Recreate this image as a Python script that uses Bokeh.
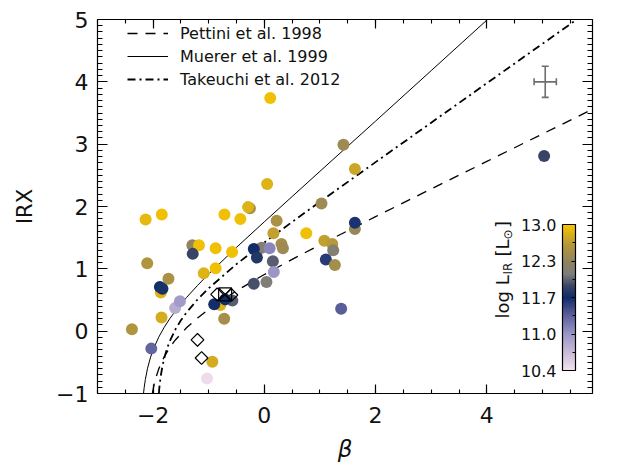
import numpy as np
from bokeh.plotting import figure
from bokeh.models import (ColumnDataSource, LinearColorMapper, ColorBar, FixedTicker,
                          LinearAxis, Legend, LegendItem, Label, LabelSet, Whisker,
                          TeeHead, Range1d, CustomLabelingPolicy)
from bokeh.embed import file_html
from bokeh.resources import INLINE
from bokeh.core.properties import value

# ---------------- data ----------------
beta = [-2.135, -1.844, -2.106, -1.724, -1.861, -1.878, -1.832, -1.849, -1.604, -1.518,
        -2.381, -2.033, -0.791, -0.901, -0.722, -0.575, -0.705, -0.935, -1.031, -0.190,
        0.038, -1.295, -1.175, -1.288, -0.876, -0.717, -0.431, -0.259, -0.293, -0.580,
        -0.876, -1.089, 0.050, 0.221, 0.163, -0.048, -0.190, -0.134, 0.094, 0.153,
        0.170, 0.753, 0.307, 0.334, 1.027, 1.079, 1.221, 1.238, 1.106, 1.268,
        1.422, 1.628, 1.628, 1.628, 1.381, 5.03, 0.106]
irx = [1.79, 1.87, 1.09, 0.84, 0.62, 0.71, 0.68, 0.22, 0.37, 0.48,
       0.03, -0.28, 0.42, 0.43, 0.20, 0.49, 0.51, -0.49, -0.76, 0.76,
       0.79, 1.38, 1.38, 1.24, 1.33, 1.87, 1.80, 1.97, 1.99, 1.27,
       1.01, 0.93, 2.36, 1.77, 1.57, 1.34, 1.32, 1.18, 1.33, 1.12,
       0.95, 1.57, 1.40, 1.33, 2.05, 1.45, 1.40, 1.30, 1.15, 1.06,
       2.99, 2.60, 1.64, 1.74, 0.36, 2.81, 3.74]
log_lir = [12.9, 12.95, 12.6, 12.55, 12.85, 11.72, 11.75, 12.8, 10.85, 11.0,
           12.6, 11.35, 12.85, 11.72, 12.5, 12.0, 11.72, 12.8, 10.45, 11.95,
           12.15, 12.35, 12.95, 11.9, 12.95, 12.95, 12.95, 12.5, 12.85, 12.95,
           12.95, 12.85, 12.85, 12.55, 12.7, 12.2, 11.72, 11.8, 11.15, 12.0,
           11.05, 12.95, 12.5, 12.45, 12.45, 12.7, 12.65, 12.2, 11.6, 12.5,
           12.45, 12.75, 12.4, 11.65, 11.4, 11.9, 12.95]

# open diamonds and boxed cross
dia_beta = [-0.849, -0.592, -1.202, -1.129]
dia_irx = [0.59, 0.58, -0.14, -0.43]
box_beta = [-0.705]
box_irx = [0.59]

# relations
pettini_beta = [-2.014, -2.0, -1.98, -1.95, -1.9, -1.8, -1.7, -1.6, -1.4, -1.2, -1.0,
                -0.5, 0.0, 0.5, 1.0, 2.0, 3.0, 4.0, 5.0, 5.9]
pettini_irx = [-1.0, -0.932, -0.848, -0.745, -0.609, -0.410, -0.261, -0.141, 0.054, 0.213,
               0.351, 0.648, 0.909, 1.152, 1.385, 1.837, 2.282, 2.723, 3.164, 3.560]
meurer_beta = [-2.173, -2.16, -2.14, -2.1, -2.05, -2.0, -1.9, -1.8, -1.7, -1.6, -1.4,
               -1.2, -1.0, -0.5, 0.0, 0.5, 1.0, 2.0, 3.0, 4.0, 4.1]
meurer_irx = [-1.0, -0.900, -0.777, -0.595, -0.429, -0.299, -0.097, 0.063, 0.201, 0.322,
              0.540, 0.735, 0.918, 1.345, 1.755, 2.160, 2.565, 3.370, 4.180, 4.990, 5.070]
takeuchi_beta = [-1.897, -1.89, -1.88, -1.86, -1.83, -1.8, -1.75, -1.7, -1.6, -1.5, -1.4,
                 -1.2, -1.0, -0.5, 0.0, 0.5, 1.0, 2.0, 3.0, 4.0, 5.0, 5.7]
takeuchi_irx = [-1.0, -0.927, -0.840, -0.703, -0.549, -0.432, -0.280, -0.160, 0.026, 0.174,
                0.299, 0.509, 0.689, 1.076, 1.423, 1.753, 2.076, 2.712, 3.345, 3.978,
                4.610, 5.052]
legend_labels = ["Pettini et al. 1998", "Muerer et al. 1999", "Takeuchi et al. 2012"]

# typical error bar
err_beta, err_irx = 5.05, 4.0
err_dbeta, err_dirx = 0.2, 0.25

# axes ticks
x_ticks = [-2, 0, 2, 4]
x_tick_labels = ["\u22122", "0", "2", "4"]
y_ticks = [-1, 0, 1, 2, 3, 4, 5]
y_tick_labels = ["\u22121", "0", "1", "2", "3", "4", "5"]

# colour bar
cb_low, cb_high = 10.4, 13.0
cb_ticks = [10.4, 11.05, 11.7, 12.35, 13.0]
cb_tick_labels = ["10.4", "11.0", "11.7", "12.3", "13.0"]

# ---------------- style ----------------
FONT = "DejaVu Sans"
anchors = [(0.00, "#f3e1ef"), (0.12, "#cbbbd9"), (0.25, "#9a96c6"), (0.38, "#5c5f9c"),
           (0.50, "#0f2b68"), (0.58, "#3a4566"), (0.66, "#7d7d7c"), (0.74, "#8f8262"),
           (0.86, "#b5973a"), (1.00, "#f8c500")]


def _rgb(h):
    return [int(h[i:i + 2], 16) for i in (1, 3, 5)]


pos = np.array([a[0] for a in anchors])
cols = np.array([_rgb(a[1]) for a in anchors], dtype=float)
tt = np.linspace(0, 1, 256)
palette = ["#%02x%02x%02x" % tuple(int(round(np.interp(t, pos, cols[:, k]))) for k in range(3))
           for t in tt]
mapper = LinearColorMapper(palette=palette, low=cb_low, high=cb_high)

no_labels = CustomLabelingPolicy(code="""
for (let i = 0; i < indices.size; i++) { indices.unset(i) }
return indices
""")

p = figure(width=627, height=469, x_range=Range1d(-3, 5.9), y_range=Range1d(-1, 5),
           output_backend="svg", toolbar_location=None,
           min_border_left=97, min_border_right=11, min_border_top=9, min_border_bottom=76,
           x_axis_label="\u03b2", y_axis_label="IRX")
p.xgrid.grid_line_color = None
p.ygrid.grid_line_color = None
p.outline_line_color = None
p.background_fill_color = "white"

xt = FixedTicker(ticks=x_ticks, minor_ticks=list(np.round(np.arange(-3.0, 6.0, 0.5), 2)))
yt = FixedTicker(ticks=y_ticks, minor_ticks=list(np.round(np.arange(-1.0, 5.01, 0.1), 2)))


def style_axis(ax, major, minor):
    ax.axis_line_color = "black"
    ax.axis_line_width = 1.2
    ax.major_tick_line_color = "black"
    ax.minor_tick_line_color = "black"
    ax.major_tick_line_width = 1.2
    ax.minor_tick_line_width = 1.1
    ax.major_tick_in = major
    ax.major_tick_out = 0
    ax.minor_tick_in = minor
    ax.minor_tick_out = 0
    ax.major_label_text_font = FONT
    ax.major_label_text_font_size = "22px"
    ax.major_label_text_color = "#111111"
    ax.axis_label_text_font = FONT
    ax.axis_label_text_color = "#111111"


xa = p.xaxis[0]
xa.ticker = xt
style_axis(xa, 9, 4)
xa.major_label_overrides = {t: s for t, s in zip(x_ticks, x_tick_labels)}
xa.major_label_standoff = 13
xa.axis_label_standoff = 10
xa.axis_label_text_font_size = "23px"
xa.axis_label_text_font_style = "italic"

ya = p.yaxis[0]
ya.ticker = yt
style_axis(ya, 10, 5)
ya.major_label_overrides = {t: s for t, s in zip(y_ticks, y_tick_labels)}
ya.major_label_standoff = 9
ya.axis_label_standoff = 16
ya.axis_label_text_font_size = "21px"
ya.axis_label_text_font_style = "normal"

top = LinearAxis(ticker=xt, major_label_policy=no_labels)
style_axis(top, 9, 4)
top.major_label_standoff = 0
top.axis_label_standoff = 0
p.add_layout(top, "above")
right = LinearAxis(ticker=yt, major_label_policy=no_labels)
style_axis(right, 10, 5)
right.major_label_standoff = 0
right.axis_label_standoff = 0
p.add_layout(right, "right")

# relations
r_p = p.line(pettini_beta, pettini_irx, line_color="black", line_width=1.3, line_dash="10 8")
r_m = p.line(meurer_beta, meurer_irx, line_color="black", line_width=1.0)
r_t = p.line(takeuchi_beta, takeuchi_irx, line_color="black", line_width=1.8, line_dash="8 4 2 4")

# galaxies
src = ColumnDataSource(dict(beta=beta, irx=irx, logl=log_lir))
p.scatter("beta", "irx", source=src, size=12, marker="circle",
          fill_color={"field": "logl", "transform": mapper}, line_color=None)

p.scatter(dia_beta, dia_irx, marker="square", angle=np.pi / 4, size=9,
          fill_color=None, line_color="black", line_width=1.2)
p.scatter(box_beta, box_irx, marker="square_x", size=13,
          fill_color=None, line_color="black", line_width=1.2)

# error bar
esrc = ColumnDataSource(dict(x=[err_beta], y=[err_irx],
                             xl=[err_beta - err_dbeta], xu=[err_beta + err_dbeta],
                             yl=[err_irx - err_dirx], yu=[err_irx + err_dirx]))
ecol = "#6e6e6e"
for dim, base, lo, up in (("height", "x", "yl", "yu"), ("width", "y", "xl", "xu")):
    p.add_layout(Whisker(source=esrc, base=base, lower=lo, upper=up, dimension=dim,
                         line_color=ecol, line_width=1.6,
                         lower_head=TeeHead(size=7, line_color=ecol, line_width=1.6),
                         upper_head=TeeHead(size=7, line_color=ecol, line_width=1.6)))

# legend
legend = Legend(items=[LegendItem(label=legend_labels[0], renderers=[r_p]),
                       LegendItem(label=legend_labels[1], renderers=[r_m]),
                       LegendItem(label=legend_labels[2], renderers=[r_t])],
                location=(30, 304), glyph_width=41, glyph_height=20, label_height=20,
                spacing=3, padding=0, margin=0, label_standoff=12,
                border_line_color=None, background_fill_alpha=0,
                label_text_font=FONT, label_text_font_size="16px",
                label_text_color="#111111")
p.add_layout(legend)

# colour bar (screen units relative to the frame)
CB_X, CB_Y, CB_W, CB_H = 465, 23, 13, 146
cb = ColorBar(color_mapper=mapper, location=(CB_X, CB_Y), width=CB_W, height=CB_H,
              padding=0, margin=0, label_standoff=0, major_label_policy=no_labels,
              ticker=FixedTicker(ticks=cb_ticks,
                                 minor_ticks=[(a + b) / 2 for a, b in zip(cb_ticks[:-1], cb_ticks[1:])]),
              major_tick_line_color="black", major_tick_in=4, major_tick_out=0,
              minor_tick_line_color="black", minor_tick_in=3, minor_tick_out=0,
              bar_line_color="black", bar_line_width=1.2,
              background_fill_alpha=0, border_line_color=None)
p.add_layout(cb)

cb_y = [CB_Y + (t - cb_low) / (cb_high - cb_low) * CB_H for t in cb_ticks]
cb_src = ColumnDataSource(dict(x=[CB_X - 6] * len(cb_ticks), y=cb_y, text=cb_tick_labels))
p.add_layout(LabelSet(x="x", y="y", text="text", source=cb_src, x_units="screen", y_units="screen",
                      text_align="right", text_baseline="middle", text_font=value(FONT),
                      text_font_size="16px", text_color="#111111"))

# rotated colour-bar title: log L_IR [L_sun]
TX, TY = 405, 75
parts = [("log L", 0, 0, "18px"), ("IR", 5, 44, "12px"), ("[L", 0, 62, "18px"),
         ("\u2299", 5, 79, "12px"), ("]", 0, 90.5, "18px")]
for txt, dx, dy, fs in parts:
    p.add_layout(Label(x=TX + dx, y=TY + dy, x_units="screen", y_units="screen", text=txt,
                       angle=90, angle_units="deg", text_align="left",
                       text_baseline="alphabetic", text_font=FONT, text_font_size=fs,
                       text_color="#111111"))

open("out.html", "w").write(file_html(p, INLINE))
